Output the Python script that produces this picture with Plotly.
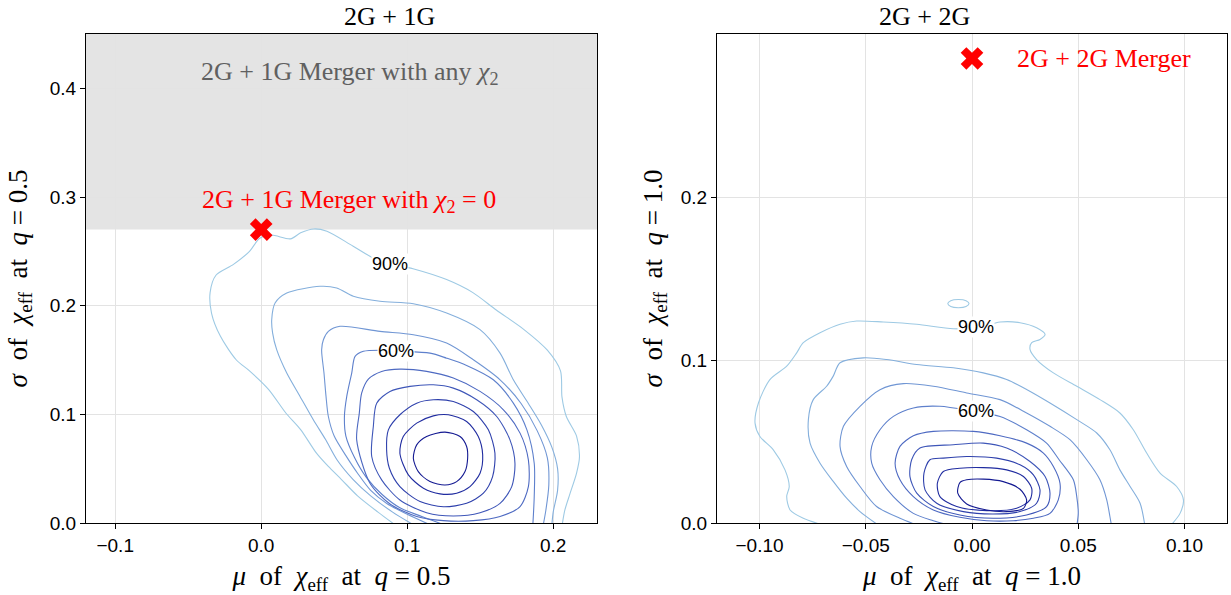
import plotly.graph_objects as go

# ---------------- data ----------------
levels = ["90%", "80%", "70%", "60%", "50%", "40%", "30%", "20%", "10%"]
level_colors = ["rgb(158,202,228)", "rgb(132,175,220)", "rgb(112,150,212)",
                "rgb(94,128,204)", "rgb(78,106,194)", "rgb(62,86,184)",
                "rgb(46,64,172)", "rgb(32,44,160)", "rgb(20,26,146)"]

# Left panel (q = 0.5) credible contours
L90_x = [0.093, 0.080, 0.066, 0.055, 0.046, 0.038, 0.027, 0.017, 0.005, -0.008, -0.017, -0.028, -0.034,
         -0.035, -0.031, -0.019, -0.008, -0.001, 0.007, 0.020, 0.027, 0.036, 0.045, 0.063, 0.081, 0.104,
         0.127, 0.145, 0.161, 0.180, 0.196, 0.205, 0.206, 0.209, 0.216, 0.218, 0.216, 0.2115, 0.208, 0.206]
L90_y = [-0.003, 0.010, 0.025, 0.040, 0.052, 0.064, 0.086, 0.101, 0.123, 0.140, 0.150, 0.172, 0.193,
         0.212, 0.228, 0.238, 0.250, 0.262, 0.265, 0.2615, 0.267, 0.2706, 0.2685, 0.2547, 0.241, 0.234,
         0.224, 0.212, 0.196, 0.178, 0.159, 0.140, 0.116, 0.098, 0.080, 0.061, 0.046, 0.027, 0.012, -0.003]
L80_x = [0.106, 0.090, 0.075, 0.063, 0.052, 0.044, 0.0357, 0.0266, 0.0175, 0.0106, 0.0078, 0.0072, 0.0095,
         0.0175, 0.0403, 0.0517, 0.0631, 0.0814, 0.1042, 0.127, 0.1499, 0.1636, 0.1727, 0.183, 0.192,
         0.199, 0.203, 0.203, 0.200, 0.199]
L80_y = [-0.003, 0.010, 0.025, 0.040, 0.058, 0.077, 0.095, 0.1165, 0.138, 0.1595, 0.175, 0.1871, 0.2024,
         0.2116, 0.2178, 0.2163, 0.2086, 0.204, 0.2018, 0.1932, 0.1779, 0.1563, 0.1318, 0.110, 0.090,
         0.070, 0.050, 0.030, 0.010, -0.003]
L70_x = [0.118, 0.100, 0.086, 0.075, 0.066, 0.058, 0.050, 0.046, 0.0444, 0.043, 0.0414, 0.0426, 0.046,
         0.054, 0.0814, 0.1042, 0.127, 0.1453, 0.1636, 0.178, 0.189, 0.196, 0.197, 0.195, 0.193]
L70_y = [-0.003, 0.008, 0.018, 0.030, 0.0458, 0.062, 0.080, 0.098, 0.1165, 0.138, 0.1595, 0.1686, 0.1763,
         0.181, 0.1763, 0.1732, 0.1656, 0.1502, 0.1318, 0.110, 0.085, 0.060, 0.035, 0.012, -0.003]
L60_x = [0.128, 0.110, 0.095, 0.083, 0.072, 0.064, 0.058, 0.057, 0.0586, 0.062, 0.0643, 0.070, 0.0814,
         0.0928, 0.1156, 0.127, 0.1407, 0.159, 0.1727, 0.182, 0.187, 0.187, 0.186]
L60_y = [-0.003, 0.006, 0.014, 0.026, 0.042, 0.060, 0.080, 0.098, 0.1165, 0.138, 0.1533, 0.158, 0.159,
         0.158, 0.1563, 0.1517, 0.145, 0.1318, 0.1103, 0.0857, 0.055, 0.0243, -0.003]
L50_x = [0.0654, 0.0672, 0.0688, 0.0734, 0.0825, 0.095, 0.1133, 0.1316, 0.1499, 0.1659, 0.1773, 0.183,
         0.183, 0.1773, 0.1636, 0.1453, 0.1248, 0.1065, 0.0882, 0.0745, 0.0654]
L50_y = [0.0765, 0.1011, 0.1195, 0.1324, 0.1395, 0.1416, 0.1395, 0.1334, 0.1211, 0.1042, 0.0827, 0.0581,
         0.0335, 0.0151, 0.006, 0.0022, 0.0022, 0.006, 0.0175, 0.0366, 0.0765]
L40_x = [0.0757, 0.0768, 0.0791, 0.0882, 0.1019, 0.1179, 0.1316, 0.1476, 0.1613, 0.1704, 0.1738, 0.1716,
         0.1636, 0.1499, 0.1316, 0.1133, 0.095, 0.0825, 0.0757]
L40_y = [0.0612, 0.0888, 0.1103, 0.1211, 0.1257, 0.1272, 0.1241, 0.1134, 0.098, 0.0765, 0.055, 0.0335,
         0.0181, 0.0095, 0.0065, 0.0095, 0.0212, 0.0397, 0.0612]
L30_x = [0.0859, 0.0871, 0.095, 0.1065, 0.1179, 0.1316, 0.1453, 0.1556, 0.1601, 0.1585, 0.1522, 0.1407,
         0.1248, 0.1088, 0.095, 0.0878, 0.0859]
L30_y = [0.0673, 0.0857, 0.0996, 0.1103, 0.1134, 0.1118, 0.1026, 0.0857, 0.0642, 0.0427, 0.0274, 0.0181,
         0.015, 0.0197, 0.0335, 0.0504, 0.0673]
L20_x = [0.095, 0.0973, 0.1065, 0.1179, 0.1282, 0.1407, 0.1487, 0.1517, 0.1499, 0.143, 0.1339, 0.1225,
         0.1111, 0.1008, 0.095]
L20_y = [0.0642, 0.0796, 0.0919, 0.0986, 0.0996, 0.0934, 0.0796, 0.0627, 0.0458, 0.0335, 0.0274, 0.0268,
         0.032, 0.0443, 0.0642]
L10_x = [0.1042, 0.1065, 0.1133, 0.1259, 0.1362, 0.1407, 0.1414, 0.1396, 0.1339, 0.1259, 0.1156, 0.1076, 0.1042]
L10_y = [0.0596, 0.0719, 0.0796, 0.0836, 0.0796, 0.0704, 0.0596, 0.0473, 0.0381, 0.035, 0.0381, 0.0473, 0.0596]

# Right panel (q = 1.0) credible contours
R90_x = [-0.0684, -0.0794, -0.0856, -0.0872, -0.086, -0.088, -0.0935, -0.0998, -0.1021, -0.1005, -0.0951,
         -0.0872, -0.0825, -0.0794, -0.0715, -0.0621, -0.0543, -0.0417, -0.026, -0.0088, 0.0022, 0.0132,
         0.0226, 0.0304, 0.0344, 0.032, 0.0281, 0.0273, 0.0304, 0.0383, 0.0493, 0.0602, 0.0696, 0.0759,
         0.0822, 0.0885, 0.0963, 0.0995, 0.0979, 0.0932]
R90_y = [-0.002, 0.0029, 0.008, 0.0162, 0.0224, 0.0326, 0.0449, 0.0531, 0.0613, 0.0736, 0.088, 0.0962,
         0.1044, 0.1106, 0.1167, 0.1219, 0.1239, 0.1233, 0.1219, 0.1192, 0.1198, 0.1233, 0.1229, 0.1198,
         0.1157, 0.1126, 0.1106, 0.1065, 0.1003, 0.0921, 0.0839, 0.0757, 0.0675, 0.0572, 0.0429, 0.0306,
         0.0224, 0.0142, 0.0059, -0.002]
R90i_x = [-0.0114, -0.0100, -0.0064, -0.0028, -0.0014, -0.0028, -0.0064, -0.0100, -0.0114]
R90i_y = [0.1346, 0.1364, 0.1371, 0.1364, 0.1346, 0.1328, 0.1321, 0.1328, 0.1346]
R80_x = [-0.0433, -0.0527, -0.059, -0.0653, -0.0715, -0.0762, -0.077, -0.0747, -0.0684, -0.0653, -0.0621,
         -0.0511, -0.0402, -0.026, -0.0088, 0.0053, 0.0163, 0.0257, 0.0367, 0.0493, 0.0587, 0.0649, 0.0696,
         0.0744, 0.0791, 0.0814]
R80_y = [-0.002, 0.007, 0.0152, 0.0255, 0.0367, 0.049, 0.0634, 0.0757, 0.0839, 0.0901, 0.0983, 0.1013,
         0.1003, 0.0972, 0.0952, 0.0921, 0.088, 0.0819, 0.0736, 0.0634, 0.0552, 0.0449, 0.0326, 0.0224,
         0.0121, -0.002]
R70_x = [-0.0245, -0.0339, -0.0449, -0.0527, -0.059, -0.0621, -0.0605, -0.0527, -0.0433, -0.0323, -0.0182,
         -0.0025, 0.0132, 0.0257, 0.0367, 0.0461, 0.054, 0.0602, 0.0634, 0.0649, 0.0657]
R70_y = [-0.002, 0.0029, 0.0101, 0.0224, 0.0347, 0.047, 0.0593, 0.0716, 0.0818, 0.0855, 0.0839, 0.0798,
         0.0757, 0.0675, 0.0593, 0.0511, 0.0388, 0.0265, 0.0142, 0.004, -0.002]
R60_x = [-0.0088, -0.0182, -0.0276, -0.037, -0.0433, -0.0472, -0.0472, -0.0433, -0.037, -0.0276, -0.0151,
         0.0006, 0.0132, 0.0257, 0.0351, 0.041, 0.0477, 0.0493, 0.05, 0.0493]
R60_y = [-0.002, 0.0014, 0.0059, 0.0162, 0.0265, 0.0367, 0.047, 0.0572, 0.0654, 0.0706, 0.0716, 0.0685,
         0.0654, 0.0572, 0.049, 0.0388, 0.0265, 0.0162, 0.0059, -0.002]
R50_x = [-0.0182, -0.0276, -0.0339, -0.0362, -0.0339, -0.0276, -0.0182, -0.0057, 0.0069, 0.0195, 0.0289,
         0.0367, 0.0406, 0.0414, 0.0383, 0.0336, 0.0257, 0.0132, 0.0006, -0.0182]
R50_y = [0.0562, 0.0535, 0.047, 0.0367, 0.0265, 0.0162, 0.008, 0.0035, 0.0014, 0.0014, 0.0029, 0.0059,
         0.0142, 0.0244, 0.0347, 0.0429, 0.049, 0.0535, 0.0562, 0.0562]
R40_x = [-0.0245, -0.0284, -0.0292, -0.026, -0.0182, -0.0057, 0.01, 0.0257, 0.0351, 0.0367, 0.0344, 0.0273,
         0.0163, 0.0053, -0.0088, -0.0245]
R40_y = [0.046, 0.0388, 0.0285, 0.0183, 0.0101, 0.0049, 0.0029, 0.0049, 0.0101, 0.0183, 0.0285, 0.0377,
         0.046, 0.049, 0.048, 0.046]
R30_x = [-0.0198, -0.0226, -0.0221, -0.0166, -0.0041, 0.01, 0.0226, 0.0304, 0.032, 0.0289, 0.0226, 0.0116,
         -0.0025, -0.0135, -0.0198]
R30_y = [0.0388, 0.0306, 0.0203, 0.0121, 0.007, 0.0055, 0.007, 0.0121, 0.0203, 0.0295, 0.0357, 0.0398,
         0.0408, 0.0398, 0.0388]
R20_x = [-0.0135, -0.0163, -0.0151, -0.0072, 0.0069, 0.021, 0.0273, 0.0281, 0.0242, 0.0163, 0.0053, -0.0057,
         -0.0135]
R20_y = [0.0316, 0.0244, 0.0162, 0.0101, 0.0076, 0.009, 0.0142, 0.0213, 0.0285, 0.0326, 0.034, 0.0336, 0.0316]
R10_x = [-0.0057, -0.0067, -0.0025, 0.0069, 0.0163, 0.0242, 0.0257, 0.0226, 0.0147, 0.0053, -0.0025, -0.0057]
R10_y = [0.0248, 0.0183, 0.0117, 0.008, 0.007, 0.009, 0.0142, 0.0207, 0.0254, 0.0269, 0.0265, 0.0248]

left_contours = [(L90_x, L90_y), (L80_x, L80_y), (L70_x, L70_y), (L60_x, L60_y), (L50_x, L50_y),
                 (L40_x, L40_y), (L30_x, L30_y), (L20_x, L20_y), (L10_x, L10_y)]
right_contours = [(R90_x, R90_y), (R80_x, R80_y), (R70_x, R70_y), (R60_x, R60_y), (R50_x, R50_y),
                  (R40_x, R40_y), (R30_x, R30_y), (R20_x, R20_y), (R10_x, R10_y)]

# markers / labels
left_merger = (0.0, 0.27)
right_merger = (0.0, 0.285)
left_shade_y = [0.27, 0.45]
left_xrange = [-0.12, 0.23]
left_labels = [("90%", 0.088, 0.2387), ("60%", 0.0925, 0.1585)]
right_labels = [("90%", 0.002, 0.1205), ("60%", 0.002, 0.0685)]

left_xticks = [-0.1, 0.0, 0.1, 0.2]
left_yticks = [0.0, 0.1, 0.2, 0.3, 0.4]
right_xticks = [-0.10, -0.05, 0.0, 0.05, 0.10]
right_yticks = [0.0, 0.1, 0.2]

# ---------------- figure ----------------
SERIF = "Liberation Serif"
SANS = "Liberation Sans"
SP = "&nbsp;"
fig = go.Figure()

for (cx, cy), col in zip(left_contours, level_colors):
    fig.add_trace(go.Scatter(x=cx, y=cy, mode="lines", line=dict(color=col, width=1.1, shape="spline", smoothing=0.8),
                             xaxis="x", yaxis="y", hoverinfo="skip", showlegend=False))
for i, ((cx, cy), col) in enumerate(zip(right_contours, level_colors)):
    fig.add_trace(go.Scatter(x=cx, y=cy, mode="lines", line=dict(color=col, width=1.1, shape="spline", smoothing=0.8),
                             xaxis="x2", yaxis="y2", hoverinfo="skip", showlegend=False))
    if i == 0:
        fig.add_trace(go.Scatter(x=R90i_x, y=R90i_y, mode="lines",
                                 line=dict(color=col, width=1.1, shape="spline", smoothing=1.0),
                                 xaxis="x2", yaxis="y2", hoverinfo="skip", showlegend=False))

fig.add_trace(go.Scatter(x=[left_merger[0]], y=[left_merger[1]], mode="markers",
                         marker=dict(symbol="x", size=20, color="red", line=dict(width=0)),
                         xaxis="x", yaxis="y", showlegend=False))
fig.add_trace(go.Scatter(x=[right_merger[0]], y=[right_merger[1]], mode="markers",
                         marker=dict(symbol="x", size=20, color="red", line=dict(width=0)),
                         xaxis="x2", yaxis="y2", showlegend=False))

fig.add_shape(type="rect", xref="x", yref="y", x0=left_xrange[0], x1=left_xrange[1],
              y0=left_shade_y[0], y1=left_shade_y[1],
              fillcolor="#e4e4e4", line=dict(width=0), layer="below")

ann = []
for txt, x, y in left_labels:
    ann.append(dict(text=txt, x=x, y=y, xref="x", yref="y", showarrow=False,
                    font=dict(family=SANS, size=18, color="black"), bgcolor="white", borderpad=0))
for txt, x, y in right_labels:
    ann.append(dict(text=txt, x=x, y=y, xref="x2", yref="y2", showarrow=False,
                    font=dict(family=SANS, size=18, color="black"), bgcolor="white", borderpad=0))

ann.append(dict(text="2G" + SP + "+" + SP + "1G Merger with any <i>χ</i><sub>2</sub>", x=0.061, y=0.414,
                xref="x", yref="y", showarrow=False, font=dict(family=SERIF, size=26, color="#606060")))
ann.append(dict(text="2G" + SP + "+" + SP + "1G Merger with <i>χ</i><sub>2</sub>" + SP + "=" + SP + "0",
                x=0.0600, y=0.296, xref="x", yref="y",
                showarrow=False, font=dict(family=SERIF, size=26, color="red")))
ann.append(dict(text="2G" + SP + "+" + SP + "2G Merger", x=0.0202, y=0.285, xref="x2", yref="y2", xanchor="left",
                showarrow=False, font=dict(family=SERIF, size=26, color="red")))

LD = [86 / 1231, 597 / 1231]
RD = [717 / 1231, 1227 / 1231]
YD = [(595 - 523) / 595, (595 - 34) / 595]
ann.append(dict(text="2G" + SP + "+" + SP + "1G", x=(LD[0] + LD[1]) / 2, y=1 - 16 / 595, xref="paper", yref="paper",
                showarrow=False, yanchor="middle", font=dict(family=SERIF, size=26, color="black")))
ann.append(dict(text="2G" + SP + "+" + SP + "2G", x=(RD[0] + RD[1]) / 2, y=1 - 16 / 595, xref="paper", yref="paper",
                showarrow=False, yanchor="middle", font=dict(family=SERIF, size=26, color="black")))

axis_common = dict(showline=True, linecolor="black", linewidth=1.2, mirror=True, ticks="outside",
                   ticklen=5, tickcolor="black", tickwidth=1, showgrid=True, gridcolor="#e3e3e3",
                   gridwidth=1, zeroline=False, tickfont=dict(family=SANS, size=19, color="black"),
                   automargin=False)
title_font = dict(family=SERIF, size=27, color="black")


def axis_title(sym, q):
    return ("<i>" + sym + "</i>" + SP + " of" + SP + " <i>χ</i><sub>eff</sub>" + SP + " at" + SP +
            " <i>q</i>" + SP + "=" + SP + q)


fig.update_layout(
    width=1231, height=595,
    margin=dict(l=0, r=0, t=0, b=0),
    paper_bgcolor="white", plot_bgcolor="white",
    showlegend=False,
    xaxis=dict(domain=LD, range=left_xrange, tickvals=left_xticks, tickformat=".1f", anchor="y",
               title=dict(text=axis_title("μ", "0.5"), font=title_font, standoff=11),
               **axis_common),
    yaxis=dict(domain=YD, range=[0, 0.45], tickvals=left_yticks, tickformat=".1f", anchor="x",
               title=dict(text=axis_title("σ", "0.5"), font=title_font, standoff=14),
               **axis_common),
    xaxis2=dict(domain=RD, range=[-0.12, 0.12], tickvals=right_xticks, tickformat=".2f", anchor="y2",
                title=dict(text=axis_title("μ", "1.0"), font=title_font, standoff=11),
                **axis_common),
    yaxis2=dict(domain=YD, range=[0, 0.3], tickvals=right_yticks, tickformat=".1f", anchor="x2",
                title=dict(text=axis_title("σ", "1.0"), font=title_font, standoff=10),
                **axis_common),
    annotations=ann,
)

fig.write_html("out.html")
